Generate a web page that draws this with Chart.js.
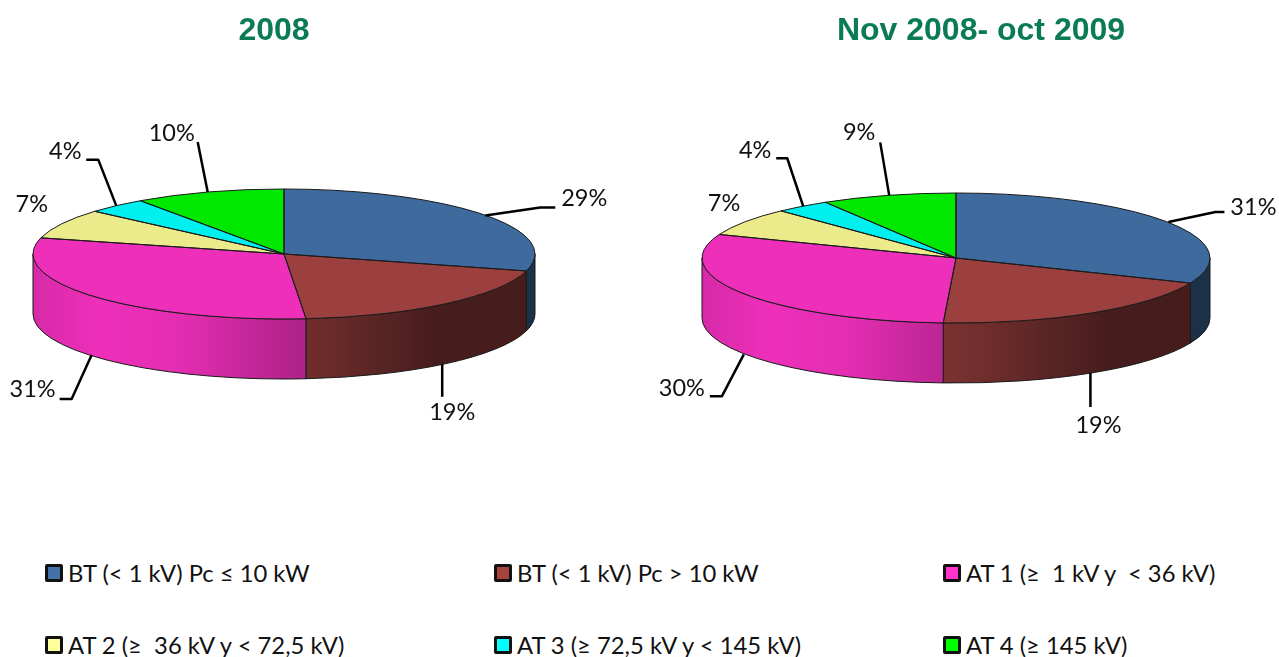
<!DOCTYPE html>
<html>
<head>
<meta charset="utf-8">
<title>Pie charts</title>
<script src="https://cdn.jsdelivr.net/npm/chart.js@4"></script>
<style>
    html, body { margin: 0; padding: 0; background: #fff; width: 1279px; height: 657px; overflow: hidden; }
    canvas { position: absolute; top: 0; }
    #chart-left { left: -100px; }
    #chart-right { left: 640px; }
    .legend-item { position: absolute; font: 23.8px Lato, sans-serif; color: #111; white-space: pre; line-height: 30px; height: 30px; }
    .legend-box { position: absolute; left: -23px; top: 6px; width: 12px; height: 12px; border: 3px solid #111; border-radius: 2px; }
</style>
</head>
<body>
<canvas id="chart-left" width="748" height="545"></canvas>
<canvas id="chart-right" width="682" height="545"></canvas>
<div id="legend"></div>
<script>
// Data
const categories = ['BT (< 1 kV) Pc ≤ 10 kW', 'BT (< 1 kV) Pc > 10 kW', 'AT 1 (≥  1 kV y  < 36 kV)', 'AT 2 (≥  36 kV y < 72,5 kV)', 'AT 3 (≥ 72,5 kV y < 145 kV)', 'AT 4 (≥ 145 kV)'];
const values2008 = [29.2, 19.4, 30.4, 7.4, 3.9, 9.7];
const valuesNov = [31.3, 19.5, 30.1, 7.0, 3.5, 8.6];
const labels2008 = ['29%', '19%', '31%', '7%', '4%', '10%'];
const labelsNov = ['31%', '19%', '30%', '7%', '4%', '9%'];

// Colours
const sliceColors = ['#3F6A9E', '#9B403E', '#EE2FBA', '#ECEB8C', '#00F0F0', '#00E800'];
const legendColors = ['#4472A8', '#A8423F', '#FF33CC', '#FFFF99', '#00FFFF', '#00FF00'];
const shadeStops = [[0, 0.9], [0.13, 1], [0.3, 0.95], [0.55, 0.72], [0.8, 0.45], [1, 0.45]];

// Leader lines: points relative to the rim point of each slice, then the text centre
const leaders2008 = [[[2, 1], [57, -7], [72, -7]], [[-3, 0], [-3, 33]], [[-1, -1], [-21, 43], [-33, 43]], [], [[0, 0], [-18, -46], [-30, -46]], [[-1, 0], [-11, -50]]];
const textOffsets2008 = [[101, -16], [7, 49], [-60, 33], [-30, -19], [-51, -54], [-37, -59]];
const leadersNov = [[[1, 0], [48, -10], [57, -10]], [[-1, 0], [-1, 34]], [[1, 1], [-21, 43], [-33, 43]], [], [[1, 0], [-15, -48], [-26, -48]], [[1, 0], [-8, -53]]];
const textOffsetsNov = [[86, -15], [7, 52], [-61, 35], [-21, -18], [-47, -56], [-29, -63]];

function shade(hex, factor) {
    const n = parseInt(hex.slice(1), 16);
    const r = Math.round((n >> 16 & 255) * factor);
    const g = Math.round((n >> 8 & 255) * factor);
    const b = Math.round((n & 255) * factor);
    return `rgb(${r},${g},${b})`;
}

// Flattens the circular pie to an ellipse and adds the side wall, outlines and labels
const pie3d = {
    id: 'pie3d',
    beforeDatasetsDraw(chart, args, opts) {
        const ctx = chart.ctx;
        const arcs = chart.getDatasetMeta(0).data;
        const rx = arcs[0].outerRadius;
        const ry = opts.ry;

        // Side wall, only the part of each slice that faces the viewer
        arcs.forEach((arc, i) => {
            const a0 = Math.max(arc.startAngle, 0);
            const a1 = Math.min(arc.endAngle, Math.PI);
            if (a1 <= a0) return;
            const grad = ctx.createLinearGradient(opts.cx - rx, 0, opts.cx + rx, 0);
            shadeStops.forEach(s => grad.addColorStop(s[0], shade(sliceColors[i], s[1])));
            ctx.beginPath();
            ctx.ellipse(opts.cx, opts.cy, rx, ry, 0, a0, a1);
            ctx.ellipse(opts.cx, opts.cy + opts.depth, rx, ry, 0, a1, a0, true);
            ctx.closePath();
            ctx.fillStyle = grad;
            ctx.fill();
            ctx.strokeStyle = '#1a1a1a';
            ctx.lineWidth = 1;
            ctx.stroke();
        });

        ctx.save();
        ctx.translate(opts.cx, opts.cy);
        ctx.scale(1, ry / rx);
        ctx.translate(-arcs[0].x, -arcs[0].y);
    },
    afterDatasetsDraw(chart, args, opts) {
        const ctx = chart.ctx;
        ctx.restore();
        const arcs = chart.getDatasetMeta(0).data;
        const rx = arcs[0].outerRadius;

        // Slice outlines on the top face
        arcs.forEach(arc => {
            ctx.beginPath();
            ctx.moveTo(opts.cx, opts.cy);
            ctx.ellipse(opts.cx, opts.cy, rx, opts.ry, 0, arc.startAngle, arc.endAngle);
            ctx.closePath();
            ctx.strokeStyle = '#1a1a1a';
            ctx.lineWidth = 1;
            ctx.stroke();
        });

        // Leader lines and percentage labels
        arcs.forEach((arc, i) => {
            const mid = (arc.startAngle + arc.endAngle) / 2;
            const x = opts.cx + rx * Math.cos(mid);
            let y = opts.cy + opts.ry * Math.sin(mid);
            if (Math.sin(mid) > 0) y += opts.depth;

            const points = opts.leaders[i];
            if (points.length) {
                ctx.beginPath();
                points.forEach((p, k) => {
                    if (k === 0) ctx.moveTo(x + p[0], y + p[1]);
                    else ctx.lineTo(x + p[0], y + p[1]);
                });
                ctx.strokeStyle = '#000';
                ctx.lineWidth = 2.5;
                ctx.lineJoin = 'round';
                ctx.stroke();
            }
            ctx.font = '23.5px Lato, sans-serif';
            ctx.fillStyle = '#111';
            ctx.textAlign = 'center';
            ctx.textBaseline = 'middle';
            ctx.fillText(opts.labels[i], x + opts.textOffsets[i][0], y + opts.textOffsets[i][1]);
        });
    }
};

function createPie(id, title, values, radius, pieOptions) {
    new Chart(document.getElementById(id).getContext('2d'), {
        type: 'pie',
        data: {
            labels: categories,
            datasets: [{
                data: values,
                backgroundColor: sliceColors,
                borderWidth: 0,
                clip: false
            }]
        },
        options: {
            responsive: false,
            animation: false,
            events: [],
            radius: radius,
            plugins: {
                legend: { display: false },
                tooltip: { enabled: false },
                title: {
                    display: true,
                    text: title,
                    color: '#0B7B55',
                    font: { family: 'Liberation Sans', size: 32, weight: 'bold' },
                    padding: { top: 12, bottom: 0 }
                },
                pie3d: pieOptions
            }
        },
        plugins: [pie3d]
    });
}

createPie('chart-left', '2008', values2008, 251, {
    cx: 384, cy: 254, ry: 65, depth: 60,
    labels: labels2008, leaders: leaders2008, textOffsets: textOffsets2008
});
createPie('chart-right', 'Nov 2008- oct 2009', valuesNov, 254, {
    cx: 316, cy: 258, ry: 65, depth: 60,
    labels: labelsNov, leaders: leadersNov, textOffsets: textOffsetsNov
});

// Legend below the pies, three columns by two rows
const legendColumns = [68, 517, 966];
const legendRows = [558, 630];
const legendEl = document.getElementById('legend');
categories.forEach((name, i) => {
    const item = document.createElement('div');
    item.className = 'legend-item';
    item.style.left = legendColumns[i % 3] + 'px';
    item.style.top = legendRows[Math.floor(i / 3)] + 'px';
    item.textContent = name;
    const box = document.createElement('span');
    box.className = 'legend-box';
    box.style.background = legendColors[i];
    item.appendChild(box);
    legendEl.appendChild(item);
});
</script>
</body>
</html>
